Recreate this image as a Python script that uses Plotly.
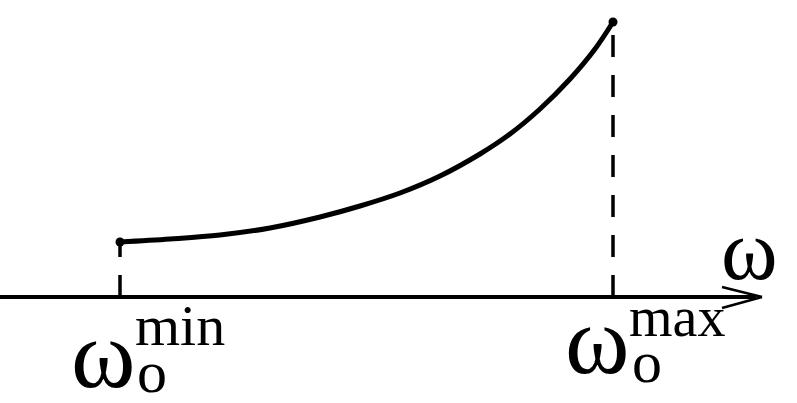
import plotly.graph_objects as go

# Data (abstract units)
omega = [120, 170, 220, 270, 320, 360, 400, 440, 480, 510, 540, 570, 595, 613]
amplitude = [55, 58, 62, 69, 80, 91, 104, 121, 143, 163, 188, 218, 248, 275]
omega_min = omega[0]
omega_max = omega[-1]
axis_end = 762
label_font = "Liberation Serif"

fig = go.Figure()

# dashed verticals (drawn bottom-up)
for xv, yv in [(omega_min, amplitude[0]), (omega_max, amplitude[-1])]:
    fig.add_trace(go.Scatter(x=[xv, xv], y=[0, yv], mode="lines",
                             line=dict(color="black", width=3.5, dash="22px,18px"),
                             hoverinfo="skip", showlegend=False))

# curve
fig.add_trace(go.Scatter(x=omega, y=amplitude, mode="lines",
                         line=dict(color="black", width=5, shape="spline", smoothing=1.0),
                         showlegend=False))
# endpoints
fig.add_trace(go.Scatter(x=[omega_min, omega_max], y=[amplitude[0], amplitude[-1]],
                         mode="markers", marker=dict(color="black", size=9),
                         showlegend=False))

# horizontal axis with open arrow
fig.add_shape(type="line", x0=0, y0=0, x1=axis_end - 6, y1=0,
              line=dict(color="black", width=4))
fig.add_shape(type="line", x0=axis_end - 40, y0=10, x1=axis_end, y1=0,
              line=dict(color="black", width=2.5))
fig.add_shape(type="line", x0=axis_end - 40, y0=-11, x1=axis_end, y1=0,
              line=dict(color="black", width=2.5))

def ann(text, x, y, size, xanchor, yanchor="top"):
    fig.add_annotation(text=text, x=x, y=y, xref="x", yref="y", showarrow=False,
                       xanchor=xanchor, yanchor=yanchor,
                       font=dict(family=label_font, size=size, color="black"))

# left label
ann("ω", omega_min + 18, -1, 98, "right")
ann("min", omega_min + 13, 6, 58, "left")
ann("o", omega_min + 15, -40, 60, "left")
# right label
ann("ω", omega_max + 19, 13, 98, "right")
ann("max", omega_max + 14, 13, 56, "left")
ann("o", omega_max + 17, -30, 60, "left")
# axis label
ann("ω", 780, 97, 86, "right")

fig.update_xaxes(range=[0, 797], visible=False, fixedrange=True)
fig.update_yaxes(range=[-106, 297], visible=False, fixedrange=True)
fig.update_layout(width=797, height=403, margin=dict(l=0, r=0, t=0, b=0),
                  paper_bgcolor="white", plot_bgcolor="white", showlegend=False)

fig.write_html("out.html", post_script="document.body.style.margin='0';",
               config={"displayModeBar": False})
